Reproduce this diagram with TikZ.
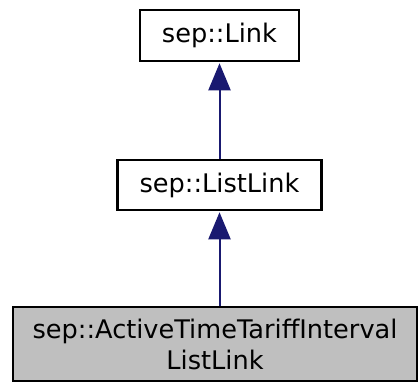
\documentclass[tikz,border=0pt]{standalone}
\usepackage{fontspec}
\setmainfont{DejaVu Sans}
\usetikzlibrary{arrows.meta}
\definecolor{edgeblue}{HTML}{191970}
\definecolor{nodegray}{HTML}{BFBFBF}
\tikzset{
  classbox/.style={draw=black, line width=2.5pt, fill=white, inner sep=0pt,
    align=center, font=\fontsize{25.6}{31}\selectfont},
  current/.style={classbox, fill=nodegray},
  inherit/.style={draw=edgeblue, line width=2pt,
    -{Triangle[length=27pt, width=22pt]}, shorten >=1pt}
}
\begin{document}
\begin{tikzpicture}[x=1pt, y=-1pt]
  \useasboundingbox (0,0) rectangle (419,383);
  \node[classbox, minimum width=159pt, minimum height=51pt] (link) at (219.5,35.5) {sep::Link};
  \node[classbox, minimum width=204pt, minimum height=50pt] (listlink) at (219.5,185) {sep::ListLink};
  \node[current, minimum width=404pt, minimum height=74pt] (active) at (215,344)
    {sep::ActiveTimeTariffInterval\\ListLink};
  \draw[inherit] (listlink.north) -- (link.south);
  \draw[inherit] (active.north -| listlink.south) -- (listlink.south);
\end{tikzpicture}
\end{document}
